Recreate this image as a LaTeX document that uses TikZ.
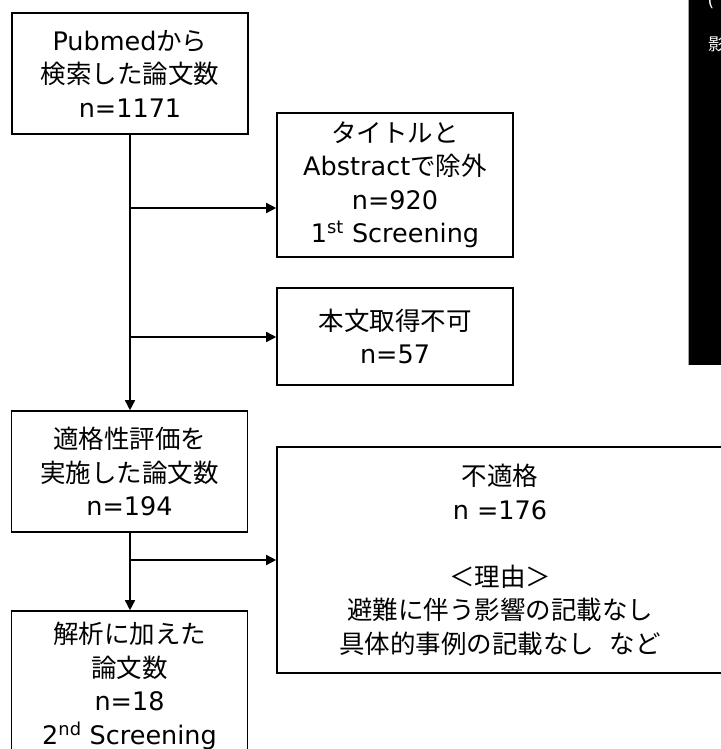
\documentclass[tikz,border=0pt]{standalone}
\usepackage{fontspec}
\setmainfont{DejaVu Sans}
\newfontfamily\jp{Noto Sans CJK JP}
\newcommand{\J}[1]{{\jp #1}}
\usetikzlibrary{arrows.meta}
\begin{document}
\begin{tikzpicture}[x=1pt,y=-1pt,
  box/.style={draw=black,line width=1.6pt,fill=white,align=center,inner sep=0pt,
    font=\fontsize{25.5}{33.5}\selectfont},
  conn/.style={line width=1.6pt},
  arr/.style={line width=1.6pt,-{Triangle[length=10pt,width=10pt]}}]
\useasboundingbox (0,0) rectangle (720,749);
\fill[white] (0,0) rectangle (720,749);
% black panel at right (cropped at the picture's edge, as in the reference)
\fill[black] (688,-5) rectangle (730,365);
\draw[gray!70,line width=0.8pt] (688,-5) -- (688,365);
\node[text=white,font=\fontsize{17}{17}\selectfont,inner sep=0pt] (p1) at (711,1) {(};
\node[text=white,font=\jp\fontsize{17}{17}\selectfont,inner sep=0pt] (p2) at (716.5,44) {影};
% boxes
\node[box,minimum width=236pt,minimum height=121pt] (b1) at (130,73.5)
  {Pubmed\J{から}\\\J{検索した論文数}\\n=1171};
\node[box,minimum width=236pt,minimum height=144pt] (b2) at (395,185)
  {\J{タイトルと}\\Abstract\J{で除外}\\n=920\\1\textsuperscript{st} Screening};
\node[box,minimum width=236pt,minimum height=97pt] (b3) at (395,336.5)
  {\J{本文取得不可}\\n=57};
\node[box,minimum width=236pt,minimum height=121pt] (b4) at (129.5,471.5)
  {\J{適格性評価を}\\\J{実施した論文数}\\n=194};
\node[box,minimum width=236pt,minimum height=150pt] (b5) at (129.5,686)
  {\J{解析に加えた}\\\J{論文数}\\n=18\\2\textsuperscript{nd} Screening};
\node[box,minimum width=446pt,minimum height=226pt] (b6) at (500,560)
  {\J{不適格}\\n =176\\[33.5pt]\J{＜理由＞}\\\J{避難に伴う影響の記載なし}\\\J{具体的事例の記載なし\hspace{0.6em}など}};
% connectors
\coordinate (j1) at (130,208);
\coordinate (j2) at (130,337);
\coordinate (j3) at (130,560);
\draw[arr] (b1.south -| j1) -- (b4.north -| j1);
\draw[arr] (j1) -- (j1 -| b2.west);
\draw[arr] (j2) -- (j2 -| b3.west);
\draw[arr] (b4.south -| j3) -- (b5.north -| j3);
\draw[arr] (j3) -- (j3 -| b6.west);
\end{tikzpicture}
\end{document}
